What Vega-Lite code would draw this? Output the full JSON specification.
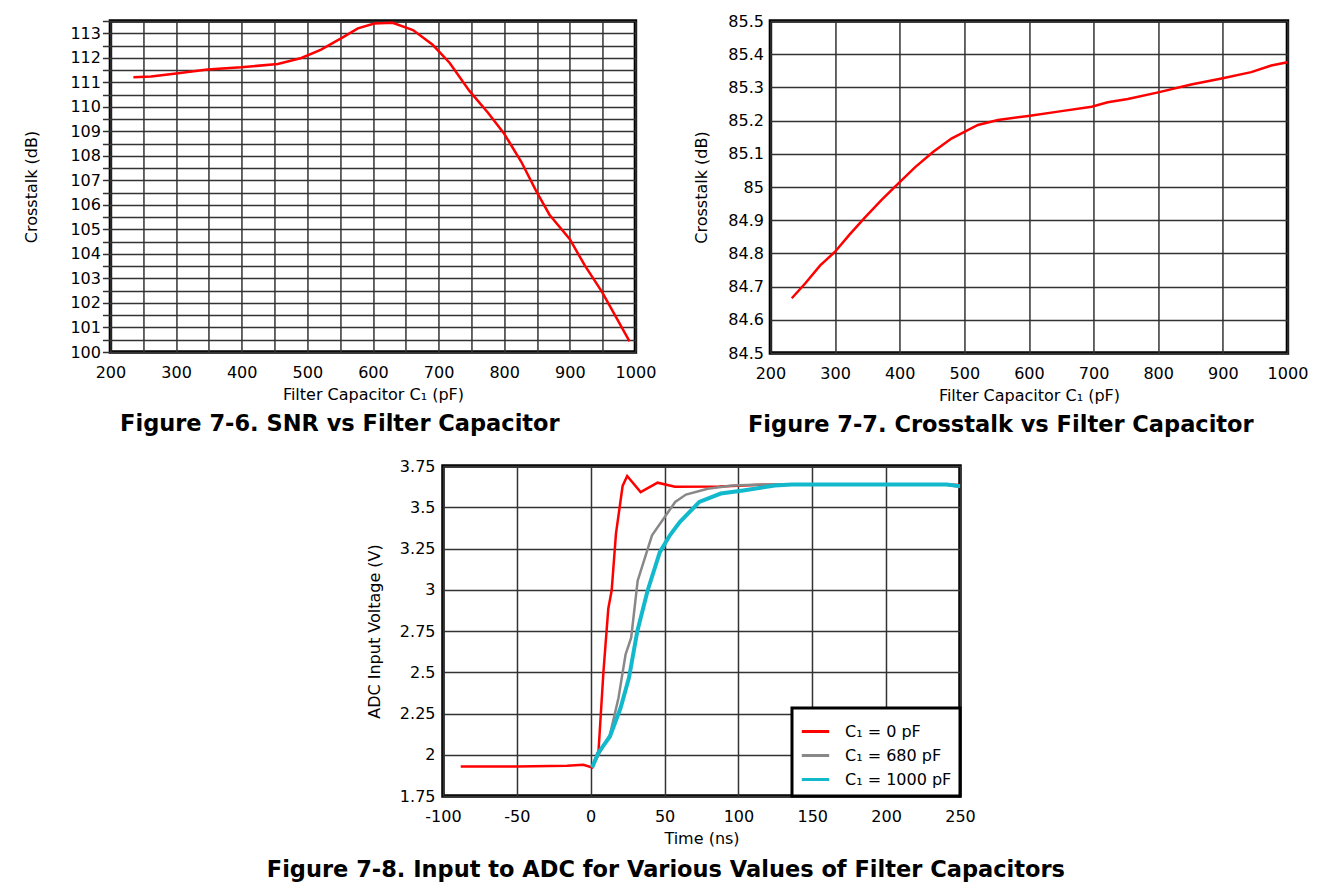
{
  "$schema": "https://vega.github.io/schema/vega-lite/v6.json",
  "background": "white",
  "padding": {"left": 22, "top": 11, "right": 0, "bottom": 0},
  "spacing": 17,
  "center": true,
  "title": {"text": "Figure 7-8. Input to ADC for Various Values of Filter Capacitors"},
  "resolve": {"legend": {"color": "independent"}},
  "vconcat": [
    {
      "hconcat": [
        {
          "width": 525,
          "height": 331,
          "title": {"text": "Figure 7-6. SNR vs Filter Capacitor"},
          "data": {"values": [
            {"c": 235, "v": 111.21}, {"c": 262, "v": 111.24}, {"c": 300, "v": 111.36}, {"c": 348, "v": 111.52},
            {"c": 399, "v": 111.61}, {"c": 455, "v": 111.75}, {"c": 491, "v": 111.99}, {"c": 521, "v": 112.33},
            {"c": 552, "v": 112.8}, {"c": 577, "v": 113.2}, {"c": 602, "v": 113.4}, {"c": 630, "v": 113.43},
            {"c": 661, "v": 113.13}, {"c": 691, "v": 112.53}, {"c": 717, "v": 111.79}, {"c": 747, "v": 110.65},
            {"c": 775, "v": 109.77}, {"c": 800, "v": 108.9}, {"c": 826, "v": 107.76}, {"c": 849, "v": 106.55},
            {"c": 869, "v": 105.6}, {"c": 900, "v": 104.6}, {"c": 923, "v": 103.52}, {"c": 949, "v": 102.45},
            {"c": 991, "v": 100.43}
          ]},
          "mark": {"type": "line", "color": "#FF0000", "strokeWidth": 2.5},
          "encoding": {
            "x": {
              "field": "c", "type": "quantitative",
              "scale": {"domain": [200, 1000], "nice": false, "zero": false},
              "axis": {
                "title": "Filter Capacitor C₁ (pF)",
                "values": [200, 250, 300, 350, 400, 450, 500, 550, 600, 650, 700, 750, 800, 850, 900, 950, 1000],
                "labelExpr": "datum.value % 100 == 0 ? '' + datum.value : ''"
              }
            },
            "y": {
              "field": "v", "type": "quantitative",
              "scale": {"domain": [100, 113.5], "nice": false, "zero": false},
              "axis": {
                "title": "Crosstalk (dB)",
                "values": [100, 100.5, 101, 101.5, 102, 102.5, 103, 103.5, 104, 104.5, 105, 105.5, 106, 106.5, 107, 107.5, 108, 108.5, 109, 109.5, 110, 110.5, 111, 111.5, 112, 112.5, 113, 113.5],
                "labelExpr": "datum.value % 1 == 0 ? '' + datum.value : ''",
                "ticks": true, "tickSize": 8, "tickColor": "#333333", "tickWidth": 1.5,
                "labelPadding": 2, "titlePadding": 30
              }
            }
          }
        },
        {
          "width": 517,
          "height": 332,
          "title": {"text": "Figure 7-7. Crosstalk vs Filter Capacitor"},
          "data": {"values": [
            {"c": 233, "v": 84.665}, {"c": 254, "v": 84.71}, {"c": 277, "v": 84.764}, {"c": 300, "v": 84.805},
            {"c": 323, "v": 84.858}, {"c": 346, "v": 84.908}, {"c": 372, "v": 84.961}, {"c": 400, "v": 85.015},
            {"c": 424, "v": 85.06}, {"c": 452, "v": 85.106}, {"c": 480, "v": 85.146}, {"c": 521, "v": 85.187},
            {"c": 552, "v": 85.202}, {"c": 599, "v": 85.214}, {"c": 645, "v": 85.227}, {"c": 697, "v": 85.242},
            {"c": 722, "v": 85.255}, {"c": 753, "v": 85.265}, {"c": 800, "v": 85.285}, {"c": 851, "v": 85.309},
            {"c": 898, "v": 85.327}, {"c": 944, "v": 85.346}, {"c": 975, "v": 85.366}, {"c": 1000, "v": 85.376}
          ]},
          "mark": {"type": "line", "color": "#FF0000", "strokeWidth": 2.5},
          "encoding": {
            "x": {
              "field": "c", "type": "quantitative",
              "scale": {"domain": [200, 1000], "nice": false, "zero": false},
              "axis": {
                "title": "Filter Capacitor C₁ (pF)",
                "values": [200, 300, 400, 500, 600, 700, 800, 900, 1000],
                "labelExpr": "'' + datum.value"
              }
            },
            "y": {
              "field": "v", "type": "quantitative",
              "scale": {"domain": [84.5, 85.5], "nice": false, "zero": false},
              "axis": {
                "title": "Crosstalk (dB)",
                "values": [84.5, 84.6, 84.7, 84.8, 84.9, 85, 85.1, 85.2, 85.3, 85.4, 85.5],
                "labelExpr": "'' + datum.value",
                "labelPadding": 7, "titlePadding": 18
              }
            }
          }
        }
      ],
      "spacing": 33
    },
    {
      "width": 517,
      "height": 330,
      "data": {"values": [
        {"t": -88, "v": 1.929, "s": "C₁ = 0 pF"}, {"t": -50, "v": 1.929, "s": "C₁ = 0 pF"}, {"t": -16, "v": 1.933, "s": "C₁ = 0 pF"},
        {"t": -5, "v": 1.939, "s": "C₁ = 0 pF"}, {"t": 1, "v": 1.923, "s": "C₁ = 0 pF"}, {"t": 5.3, "v": 2.024, "s": "C₁ = 0 pF"},
        {"t": 8.6, "v": 2.5, "s": "C₁ = 0 pF"}, {"t": 11.9, "v": 2.885, "s": "C₁ = 0 pF"}, {"t": 14.2, "v": 2.996, "s": "C₁ = 0 pF"},
        {"t": 17.1, "v": 3.34, "s": "C₁ = 0 pF"}, {"t": 21.6, "v": 3.629, "s": "C₁ = 0 pF"}, {"t": 24.7, "v": 3.689, "s": "C₁ = 0 pF"},
        {"t": 33.8, "v": 3.592, "s": "C₁ = 0 pF"}, {"t": 45.3, "v": 3.649, "s": "C₁ = 0 pF"}, {"t": 57, "v": 3.624, "s": "C₁ = 0 pF"},
        {"t": 87, "v": 3.626, "s": "C₁ = 0 pF"}, {"t": 116, "v": 3.636, "s": "C₁ = 0 pF"}, {"t": 145, "v": 3.638, "s": "C₁ = 0 pF"},
        {"t": 240, "v": 3.638, "s": "C₁ = 0 pF"}, {"t": 250, "v": 3.635, "s": "C₁ = 0 pF"},
        {"t": 1, "v": 1.923, "s": "C₁ = 680 pF"}, {"t": 5.9, "v": 2.01, "s": "C₁ = 680 pF"}, {"t": 13, "v": 2.121, "s": "C₁ = 680 pF"},
        {"t": 18.8, "v": 2.344, "s": "C₁ = 680 pF"}, {"t": 23.6, "v": 2.608, "s": "C₁ = 680 pF"}, {"t": 27.4, "v": 2.709, "s": "C₁ = 680 pF"},
        {"t": 31.8, "v": 3.055, "s": "C₁ = 680 pF"}, {"t": 41.5, "v": 3.33, "s": "C₁ = 680 pF"}, {"t": 57.2, "v": 3.532, "s": "C₁ = 680 pF"},
        {"t": 64.5, "v": 3.577, "s": "C₁ = 680 pF"}, {"t": 79.2, "v": 3.612, "s": "C₁ = 680 pF"}, {"t": 96, "v": 3.632, "s": "C₁ = 680 pF"},
        {"t": 116, "v": 3.638, "s": "C₁ = 680 pF"}, {"t": 240, "v": 3.638, "s": "C₁ = 680 pF"}, {"t": 250, "v": 3.622, "s": "C₁ = 680 pF"},
        {"t": 1, "v": 1.923, "s": "C₁ = 1000 pF"}, {"t": 5, "v": 2.01, "s": "C₁ = 1000 pF"}, {"t": 13, "v": 2.111, "s": "C₁ = 1000 pF"},
        {"t": 20.2, "v": 2.283, "s": "C₁ = 1000 pF"}, {"t": 25.9, "v": 2.466, "s": "C₁ = 1000 pF"}, {"t": 31.6, "v": 2.75, "s": "C₁ = 1000 pF"},
        {"t": 38.5, "v": 2.994, "s": "C₁ = 1000 pF"}, {"t": 46.8, "v": 3.228, "s": "C₁ = 1000 pF"}, {"t": 53.6, "v": 3.33, "s": "C₁ = 1000 pF"},
        {"t": 60.3, "v": 3.41, "s": "C₁ = 1000 pF"}, {"t": 73.5, "v": 3.532, "s": "C₁ = 1000 pF"}, {"t": 88, "v": 3.583, "s": "C₁ = 1000 pF"},
        {"t": 103.2, "v": 3.602, "s": "C₁ = 1000 pF"}, {"t": 124.7, "v": 3.632, "s": "C₁ = 1000 pF"}, {"t": 136, "v": 3.638, "s": "C₁ = 1000 pF"},
        {"t": 241, "v": 3.638, "s": "C₁ = 1000 pF"}, {"t": 250, "v": 3.628, "s": "C₁ = 1000 pF"}
      ]},
      "encoding": {
        "x": {
          "field": "t", "type": "quantitative",
          "scale": {"domain": [-100, 250], "nice": false, "zero": false},
          "axis": {
            "title": "Time (ns)",
            "values": [-100, -50, 0, 50, 100, 150, 200, 250],
            "labelExpr": "'' + datum.value"
          }
        },
        "y": {
          "field": "v", "type": "quantitative",
          "scale": {"domain": [1.75, 3.75], "nice": false, "zero": false},
          "axis": {
            "title": "ADC Input Voltage (V)",
            "values": [1.75, 2, 2.25, 2.5, 2.75, 3, 3.25, 3.5, 3.75],
            "labelExpr": "'' + datum.value",
            "labelPadding": 8, "titlePadding": 17
          }
        },
        "color": {
          "field": "s", "type": "nominal",
          "scale": {"domain": ["C₁ = 0 pF", "C₁ = 680 pF", "C₁ = 1000 pF"], "range": ["#FF0000", "#888888", "#12B9CC"]},
          "legend": {
            "title": null, "orient": "bottom-right", "offset": 0,
            "strokeColor": "black", "fillColor": "white", "padding": 8,
            "symbolType": "stroke", "symbolSize": 750, "symbolStrokeWidth": 3,
            "labelFont": "DejaVu Sans", "labelFontSize": 16, "labelColor": "black",
            "labelOffset": 14, "rowPadding": 0, "labelLimit": 300
          }
        }
      },
      "layer": [
        {"transform": [{"filter": "datum.s == 'C₁ = 0 pF'"}], "mark": {"type": "line", "strokeWidth": 2.5}},
        {"transform": [{"filter": "datum.s == 'C₁ = 680 pF'"}], "mark": {"type": "line", "strokeWidth": 2.5}},
        {"transform": [{"filter": "datum.s == 'C₁ = 1000 pF'"}], "mark": {"type": "line", "strokeWidth": 4}}
      ]
    }
  ],
  "config": {
    "font": "DejaVu Sans",
    "view": {"stroke": "black", "strokeWidth": 3.5},
    "legend": {"strokeWidth": 3},
    "axis": {
      "domain": false, "ticks": false, "grid": true,
      "gridColor": "#333333", "gridWidth": 1.5, "gridOpacity": 1,
      "labelFont": "DejaVu Sans", "labelFontSize": 16, "labelColor": "black",
      "labelFlush": false, "labelOverlap": false,
      "titleFont": "DejaVu Sans", "titleFontSize": 16, "titleFontWeight": "normal", "titleColor": "black"
    },
    "axisX": {"labelPadding": 12, "titlePadding": 6},
    "title": {
      "orient": "bottom", "anchor": "middle", "frame": "bounds", "offset": 11,
      "font": "DejaVu Sans", "fontSize": 22.5, "fontWeight": "bold", "color": "black"
    }
  }
}
